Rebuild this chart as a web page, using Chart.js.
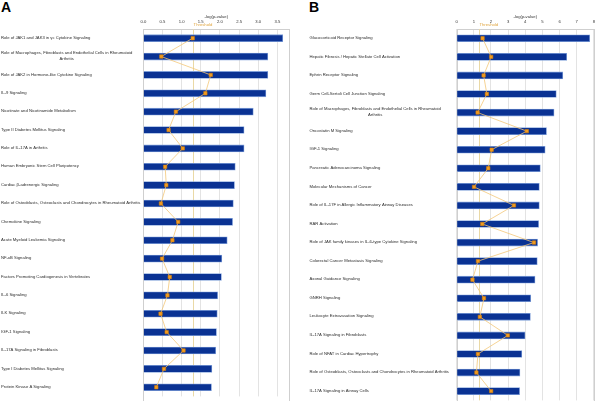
<!DOCTYPE html>
<html>
<head>
<meta charset="utf-8">
<script src="https://cdn.jsdelivr.net/npm/chart.js@4.4.1/dist/chart.umd.min.js"></script>
<style>
  html, body { margin: 0; padding: 0; background: #fff; overflow: hidden; }
  body { width: 600px; height: 401px; position: relative; }
  canvas { position: absolute; top: 0; }
  .letter { position: absolute; top: -1px; font: bold 14px "Liberation Sans", Arial, sans-serif; color: #000; }
</style>
</head>
<body>
<div class="letter" style="left:1px">A</div>
<div class="letter" style="left:309px">B</div>
<canvas id="chartA" width="300" height="401" style="left:0"></canvas>
<canvas id="chartB" width="300" height="405" style="left:300px"></canvas>
<script>
// Panel A: pathways, -log(p-value) and ratio (drawn on the same axis)
const pathwaysA = [
  'Role of JAK1 and JAK3 in γc Cytokine Signaling',
  ['Role of Macrophages, Fibroblasts and Endothelial Cells in Rheumatoid', 'Arthritis'],
  'Role of JAK2 in Hormone-like Cytokine Signaling',
  'IL-9 Signaling',
  'Nicotinate and Nicotinamide Metabolism',
  'Type II Diabetes Mellitus Signaling',
  'Role of IL-17A in Arthritis',
  'Human Embryonic Stem Cell Pluripotency',
  'Cardiac β-adrenergic Signaling',
  'Role of Osteoblasts, Osteoclasts and Chondrocytes in Rheumatoid Arthritis',
  'Chemokine Signaling',
  'Acute Myeloid Leukemia Signaling',
  'NF-κB Signaling',
  'Factors Promoting Cardiogenesis in Vertebrates',
  'IL-6 Signaling',
  'ILK Signaling',
  'IGF-1 Signaling',
  'IL-17A Signaling in Fibroblasts',
  'Type I Diabetes Mellitus Signaling',
  'Protein Kinase A Signaling'
];
const logPA = [3.64, 3.25, 3.25, 3.20, 2.87, 2.63, 2.63, 2.40, 2.38, 2.35,
               2.33, 2.19, 2.05, 2.04, 1.94, 1.93, 1.91, 1.89, 1.79, 1.78];
const ratioA = [1.29, 0.47, 1.76, 1.62, 0.85, 0.66, 1.03, 0.57, 0.60, 0.46,
                0.91, 0.76, 0.49, 0.69, 0.63, 0.45, 0.61, 1.05, 0.54, 0.34];
const ticksA = [0, 0.5, 1, 1.5, 2, 2.5, 3, 3.5];

// Panel B
const pathwaysB = [
  'Glucocorticoid Receptor Signaling',
  'Hepatic Fibrosis / Hepatic Stellate Cell Activation',
  'Ephrin Receptor Signaling',
  'Germ Cell-Sertoli Cell Junction Signaling',
  ['Role of Macrophages, Fibroblasts and Endothelial Cells in Rheumatoid', 'Arthritis'],
  'Oncostatin M Signaling',
  'IGF-1 Signaling',
  'Pancreatic Adenocarcinoma Signaling',
  'Molecular Mechanisms of Cancer',
  'Role of IL-17F in Allergic Inflammatory Airway Diseases',
  'RAR Activation',
  'Role of JAK family kinases in IL-6-type Cytokine Signaling',
  'Colorectal Cancer Metastasis Signaling',
  'Axonal Guidance Signaling',
  'GNRH Signaling',
  'Leukocyte Extravasation Signaling',
  'IL-17A Signaling in Fibroblasts',
  'Role of NFAT in Cardiac Hypertrophy',
  'Role of Osteoblasts, Osteoclasts and Chondrocytes in Rheumatoid Arthritis',
  'IL-17A Signaling in Airway Cells'
];
const logPB = [7.76, 6.42, 6.19, 5.81, 5.68, 5.24, 5.16, 4.88, 4.82, 4.82,
               4.78, 4.72, 4.70, 4.57, 4.32, 4.30, 3.99, 3.80, 3.69, 3.67];
const ratioB = [1.51, 2.01, 1.57, 1.76, 1.22, 4.09, 2.04, 1.84, 1.01, 3.34,
                1.49, 4.51, 1.24, 0.92, 1.59, 1.35, 2.98, 1.24, 1.15, 2.01];
const ticksB = [0, 1, 2, 3, 4, 5, 6, 7, 8];

const THRESHOLD = 1.3;
const FONT = '"Liberation Sans", Arial, sans-serif';
const SMALL = 4.2;

// box, threshold line and the left-hand pathway names
const ipaPlugin = {
  id: 'ipa',
  beforeDatasetsDraw(chart) {
    const { ctx, chartArea: a, scales: { x } } = chart;
    ctx.save();
    ctx.strokeStyle = '#cfcfcf';
    ctx.lineWidth = 1;
    ctx.strokeRect(Math.round(a.left) + 0.5, Math.round(a.top) + 0.5, Math.round(a.right - a.left), a.bottom - a.top + 5);
    const tx = Math.round(x.getPixelForValue(THRESHOLD)) + 0.5;
    ctx.strokeStyle = '#ead9a6';
    ctx.beginPath();
    ctx.moveTo(tx, a.top);
    ctx.lineTo(tx, a.bottom);
    ctx.stroke();
    ctx.restore();
  },
  afterDraw(chart, args, opts) {
    const { ctx, chartArea: a, scales: { x, y } } = chart;
    ctx.save();
    ctx.font = `${SMALL}px ${FONT}`;
    ctx.fillStyle = '#e0a43c';
    ctx.textAlign = 'left';
    ctx.textBaseline = 'middle';
    ctx.fillText('Threshold', x.getPixelForValue(THRESHOLD) + 0.5, a.top - 4.5);

    ctx.fillStyle = '#2b2b2b';
    chart.data.labels.forEach((lab, i) => {
      const lines = [].concat(lab);
      const cy = y.getPixelForTick(i);
      const w0 = ctx.measureText(lines[0]).width;
      lines.forEach((ln, j) => {
        const ly = cy + (j - (lines.length - 1) / 2) * 6 - 0.5;
        if (j === 0) {
          ctx.textAlign = 'left';
          ctx.fillText(ln, opts.labelX, ly);
        } else {
          ctx.textAlign = 'center';
          ctx.fillText(ln, opts.labelX + w0 / 2, ly);
        }
      });
    });
    ctx.restore();
  }
};

function buildPanel(id, labels, logP, ratio, tickValues, cfg) {
  return new Chart(document.getElementById(id), {
    type: 'bar',
    data: {
      labels: labels,
      datasets: [{
        type: 'line',
        data: ratio,
        borderColor: '#f4c878',
        borderWidth: 0.8,
        pointStyle: 'rect',
        pointRadius: 2.4,
        pointBackgroundColor: '#f39c1f',
        pointBorderColor: '#cf7d10',
        pointBorderWidth: 0.6,
        tension: 0,
        order: 0
      }, {
        data: logP,
        backgroundColor: '#0a3293',
        borderColor: '#7f9fd9',
        borderWidth: 0.8,
        barThickness: 7,
        order: 1
      }]
    },
    options: {
      indexAxis: 'y',
      responsive: false,
      animation: false,
      events: [],
      layout: { padding: { left: 0, right: cfg.rightPad, top: 0, bottom: 0 } },
      plugins: {
        legend: { display: false },
        tooltip: { enabled: false },
        ipa: { labelX: cfg.labelX }
      },
      scales: {
        x: {
          type: 'linear',
          position: 'top',
          min: 0,
          max: cfg.max,
          ticks: {
            padding: 5,
            autoSkip: false,
            maxRotation: 0,
            color: '#333',
            font: { family: FONT, size: SMALL },
            callback: v => v.toFixed(cfg.decimals)
          },
          afterBuildTicks: s => {
            s.ticks = tickValues.map(v => ({ value: v }));
          },
          afterFit: s => { s.height = 29; },
          grid: { color: '#e3e3e3', drawTicks: false },
          border: { display: false },
          title: {
            display: true,
            text: '-log(p-value)',
            color: '#333',
            font: { family: FONT, size: SMALL },
            padding: { top: 14, bottom: 0 }
          }
        },
        y: {
          type: 'category',
          ticks: { display: false },
          grid: { display: false },
          border: { display: false },
          afterFit: s => { s.width = cfg.plotLeft; }
        }
      }
    },
    plugins: [ipaPlugin]
  });
}

buildPanel('chartA', pathwaysA, logPA, ratioA, ticksA, {
  max: 3.81, decimals: 1, plotLeft: 143.3, rightPad: 10.7, labelX: 1
});
buildPanel('chartB', pathwaysB, logPB, ratioB, ticksB, {
  max: 8, decimals: 0, plotLeft: 156.7, rightPad: 3.3, labelX: 9.5
});
</script>
</body>
</html>
